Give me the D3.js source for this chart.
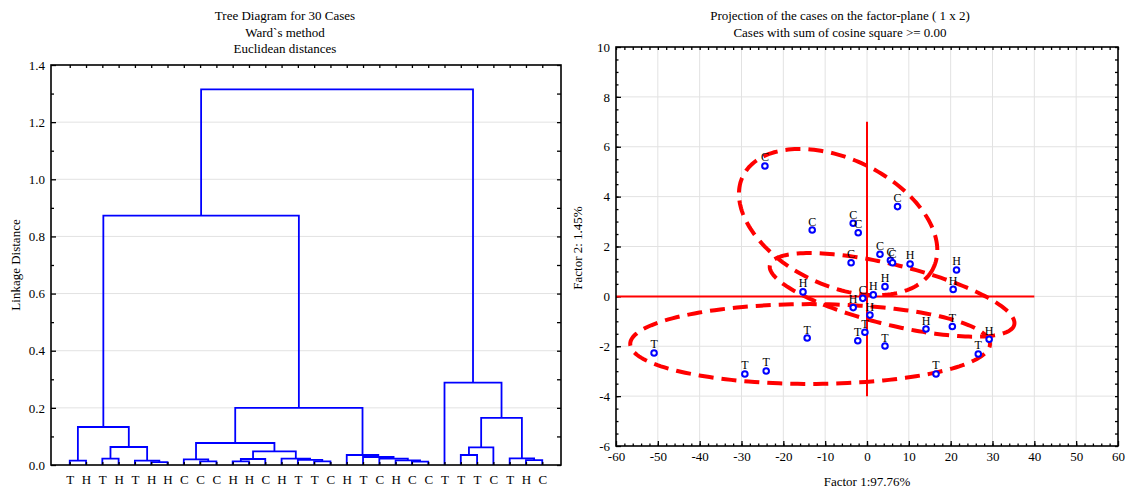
<!DOCTYPE html>
<html lang="en">
<head>
<meta charset="utf-8">
<title>Tree diagram and factor plane</title>
<script src="https://cdn.jsdelivr.net/npm/d3@7"></script>
<style>
	body { margin: 0; background: #fff; }
	text { font-family: "Liberation Serif", serif; font-size: 13px; fill: #000; }
	.grid line { stroke: #e2e2e2; stroke-width: 1; }
	.ticks path { display: none; }
	.ticks line { stroke: #000; stroke-width: 1.3; }
	.frame { fill: none; stroke: #000; stroke-width: 1.6; }
</style>
</head>
<body>
<script>
// tree diagram data
var leafLabels = ["T","H","T","H","T","H","H","C","C","C","H","H","C","H","T",
                  "T","C","H","T","C","H","C","C","T","T","T","C","T","H","C"];
// [left node, right node, linkage distance]; merge k becomes node 30 + k
var merges = [
	[0, 1, 0.015], [2, 3, 0.022], [5, 6, 0.010], [4, 32, 0.015], [31, 33, 0.063],
	[30, 34, 0.133], [8, 9, 0.013], [7, 36, 0.020], [10, 11, 0.013], [38, 12, 0.021],
	[15, 16, 0.013], [14, 40, 0.018], [13, 41, 0.022], [39, 42, 0.048], [37, 43, 0.077],
	[21, 22, 0.012], [20, 45, 0.016], [19, 46, 0.022], [18, 47, 0.028], [17, 48, 0.035],
	[44, 49, 0.200], [35, 50, 0.873], [24, 25, 0.035], [52, 26, 0.062], [28, 29, 0.017],
	[27, 54, 0.023], [53, 55, 0.165], [23, 56, 0.288], [51, 57, 1.315]
];
var treeTitle = ["Tree Diagram for 30 Cases", "Ward`s method", "Euclidean distances"];

// factor plane data
var caseLabels = ["C","C","C","C","C","C","C","C","C","C",
                  "H","H","H","H","H","H","H","H","H","H",
                  "T","T","T","T","T","T","T","T","T","T"];
var factor1 = [7.3, -3.3, -2.1, 3.1, 5.6, 6.1, -3.8, -1.0, -24.4, -13.1,
               10.3, 21.4, 20.6, 4.3, 1.5, -3.3, 0.7, 14.1, 29.2, -15.3,
               -0.5, -2.2, 4.3, 20.4, 26.6, -50.9, -29.2, -24.1, -14.3, 16.5];
var factor2 = [3.6, 2.93, 2.55, 1.69, 1.45, 1.35, 1.35, -0.08, 5.23, 2.66,
               1.3, 1.06, 0.28, 0.39, 0.06, -0.45, -0.75, -1.31, -1.72, 0.18,
               -1.44, -1.78, -1.99, -1.21, -2.31, -2.27, -3.11, -2.99, -1.67, -3.11];
// ellipses: centre, half major axis vector, half minor axis vector (factor units)
var ellipseCentres = [[-6.9, 2.98], [6.0, 0.06], [-13.6, -1.91]];
var ellipseMajor = [[22.8, -1.83], [29.2, -1.2], [43.0, 0]];
var ellipseMinor = [[-6.5, -2.29], [-1.72, -1.17], [0, 1.6]];
var planeTitle = ["Projection of the cases on the factor-plane ( 1 x  2)",
                  "Cases with sum of cosine square >= 0.00"];

var w = 1132, h = 492;
var svg = d3.select("body").append("svg")
	.attr("width", w)
	.attr("height", h);
svg.append("rect").attr("width", w).attr("height", h).attr("fill", "#fff");

function fmt(d) { return String(d); }

//----- tree diagram -----
var tl = 51, tr = 561, tt = 65, tb = 465;
var xTree = d3.scalePoint().domain(d3.range(30)).range([tl, tr]).padding(1.15);
var yTree = d3.scaleLinear().domain([0, 1.4]).range([tb, tt]);

var tree = svg.append("g");
tree.append("g").attr("class", "grid")
	.selectAll("line")
	.data(yTree.ticks(7).filter(function(d) { return d > 0 && d < 1.4; }))
	.enter().append("line")
	.attr("x1", tl).attr("x2", tr)
	.attr("y1", function(d) { return yTree(d); })
	.attr("y2", function(d) { return yTree(d); });

// node positions
var nodeX = d3.range(30).map(function(i) { return xTree(i); });
var nodeH = d3.range(30).map(function() { return 0; });
merges.forEach(function(m) {
	nodeX.push((nodeX[m[0]] + nodeX[m[1]]) / 2);
	nodeH.push(m[2]);
});

tree.append("g")
	.selectAll("path")
	.data(merges)
	.enter().append("path")
	.attr("fill", "none")
	.attr("stroke", "#0000ff")
	.attr("stroke-width", 1.8)
	.attr("d", function(m) {
		return "M" + nodeX[m[0]] + "," + yTree(nodeH[m[0]]) +
			"V" + yTree(m[2]) + "H" + nodeX[m[1]] + "V" + yTree(nodeH[m[1]]);
	});

tree.append("g").attr("class", "ticks")
	.attr("transform", "translate(" + tl + ",0)")
	.call(d3.axisLeft(yTree).tickValues(d3.range(0, 1.41, 0.2)).tickSize(-5).tickPadding(6)
		.tickFormat(d3.format(".1f")));
tree.append("g").attr("class", "ticks")
	.attr("transform", "translate(" + tl + ",0)")
	.call(d3.axisLeft(yTree).tickValues(d3.range(0.1, 1.4, 0.2)).tickSize(-3).tickFormat(""));
tree.append("g").attr("class", "ticks")
	.attr("transform", "translate(" + tr + ",0)")
	.call(d3.axisRight(yTree).tickValues(d3.range(0, 1.41, 0.1)).tickSize(-4).tickFormat(""));
tree.append("g").attr("class", "ticks")
	.attr("transform", "translate(0," + tb + ")")
	.call(d3.axisBottom(xTree).tickSize(-3).tickPadding(10)
		.tickFormat(function(i) { return leafLabels[i]; }));
tree.append("g").attr("class", "ticks")
	.attr("transform", "translate(0," + tt + ")")
	.call(d3.axisTop(xTree).tickSize(-3).tickFormat(""));
tree.selectAll(".ticks text").style("font-family", "Liberation Serif").style("font-size", "13px");

tree.append("rect").attr("class", "frame")
	.attr("x", tl).attr("y", tt).attr("width", tr - tl).attr("height", tb - tt);

tree.append("text")
	.attr("transform", "translate(20," + (tt + tb) / 2 + ") rotate(-90)")
	.attr("text-anchor", "middle")
	.text("Linkage Distance");

tree.selectAll(".title")
	.data(treeTitle)
	.enter().append("text")
	.attr("x", 285)
	.attr("y", function(d, i) { return 20 + i * 16.5; })
	.attr("text-anchor", "middle")
	.text(function(d) { return d; });

//----- factor plane -----
var pl = 616, pr = 1118, pt = 47, pb = 446;
var xF = d3.scaleLinear().domain([-60, 60]).range([pl, pr]);
var yF = d3.scaleLinear().domain([-6, 10]).range([pb, pt]);

var plane = svg.append("g");
var grid = plane.append("g").attr("class", "grid");
grid.selectAll(".gx")
	.data(xF.ticks(12).slice(1, -1))
	.enter().append("line")
	.attr("x1", function(d) { return xF(d); }).attr("x2", function(d) { return xF(d); })
	.attr("y1", pt).attr("y2", pb);
grid.selectAll(".gy")
	.data(yF.ticks(8).slice(1, -1))
	.enter().append("line")
	.attr("y1", function(d) { return yF(d); }).attr("y2", function(d) { return yF(d); })
	.attr("x1", pl).attr("x2", pr);

// ticks on all four sides
plane.append("g").attr("class", "ticks")
	.attr("transform", "translate(0," + pb + ")")
	.call(d3.axisBottom(xF).ticks(12).tickSize(-5).tickPadding(6).tickFormat(fmt));
plane.append("g").attr("class", "ticks")
	.attr("transform", "translate(0," + pb + ")")
	.call(d3.axisBottom(xF).tickValues(d3.range(-58, 60, 2)).tickSize(-2.5).tickFormat(""));
plane.append("g").attr("class", "ticks")
	.attr("transform", "translate(0," + pt + ")")
	.call(d3.axisTop(xF).tickValues(d3.range(-60, 61, 2)).tickSize(-3).tickFormat(""));
plane.append("g").attr("class", "ticks")
	.attr("transform", "translate(" + pl + ",0)")
	.call(d3.axisLeft(yF).ticks(8).tickSize(-5).tickPadding(6).tickFormat(fmt));
plane.append("g").attr("class", "ticks")
	.attr("transform", "translate(" + pl + ",0)")
	.call(d3.axisLeft(yF).tickValues(d3.range(-5.5, 10, 0.5)).tickSize(-2.5).tickFormat(""));
plane.append("g").attr("class", "ticks")
	.attr("transform", "translate(" + pr + ",0)")
	.call(d3.axisRight(yF).tickValues(d3.range(-6, 10.1, 0.5)).tickSize(-3).tickFormat(""));
plane.selectAll(".ticks text").style("font-family", "Liberation Serif").style("font-size", "13px");

// red origin cross
plane.append("line")
	.attr("stroke", "#ff0000").attr("stroke-width", 2)
	.attr("x1", xF(-60)).attr("x2", xF(40))
	.attr("y1", yF(0)).attr("y2", yF(0));
plane.append("line")
	.attr("stroke", "#ff0000").attr("stroke-width", 2)
	.attr("x1", xF(0)).attr("x2", xF(0))
	.attr("y1", yF(7)).attr("y2", yF(-4));

// dashed ellipses
var ellipseLine = d3.line()
	.x(function(p) { return xF(p[0]); })
	.y(function(p) { return yF(p[1]); })
	.curve(d3.curveLinearClosed);
plane.append("g")
	.selectAll("path")
	.data(ellipseCentres)
	.enter().append("path")
	.attr("fill", "none")
	.attr("stroke", "#ff0000")
	.attr("stroke-width", 4)
	.attr("stroke-dasharray", "15,8")
	.attr("d", function(c, k) {
		var a = ellipseMajor[k], b = ellipseMinor[k];
		var pts = d3.range(0, 2 * Math.PI, Math.PI / 90).map(function(t) {
			return [c[0] + a[0] * Math.cos(t) + b[0] * Math.sin(t),
			        c[1] + a[1] * Math.cos(t) + b[1] * Math.sin(t)];
		});
		return ellipseLine(pts);
	});

// cases
var cases = plane.append("g")
	.selectAll("g")
	.data(caseLabels)
	.enter().append("g")
	.attr("transform", function(d, i) {
		return "translate(" + xF(factor1[i]) + "," + yF(factor2[i]) + ")";
	});
cases.append("circle")
	.attr("r", 2.8)
	.attr("fill", "#fff")
	.attr("stroke", "#0000ff")
	.attr("stroke-width", 2);
cases.append("text")
	.attr("y", -4.5)
	.attr("text-anchor", "middle")
	.style("font-size", "12px")
	.text(function(d) { return d; });

plane.append("rect").attr("class", "frame")
	.attr("x", pl).attr("y", pt).attr("width", pr - pl).attr("height", pb - pt);

plane.append("text")
	.attr("x", (pl + pr) / 2)
	.attr("y", 486)
	.attr("text-anchor", "middle")
	.text("Factor 1:97.76%");
plane.append("text")
	.attr("transform", "translate(582," + 248 + ") rotate(-90)")
	.attr("text-anchor", "middle")
	.text("Factor 2: 1.45%");

plane.selectAll(".title")
	.data(planeTitle)
	.enter().append("text")
	.attr("x", 840)
	.attr("y", function(d, i) { return 20 + i * 16.5; })
	.attr("text-anchor", "middle")
	.text(function(d) { return d; });
</script>
</body>
</html>
